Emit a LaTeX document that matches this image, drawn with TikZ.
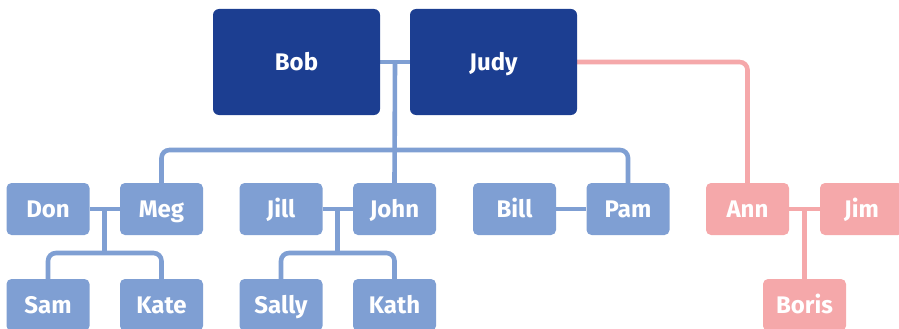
\documentclass[tikz,border=0pt]{standalone}
\usepackage{fontspec}
\setmainfont{Fira Sans}
\usetikzlibrary{calc,backgrounds}
\definecolor{navy}{RGB}{28,62,145}
\definecolor{lblue}{RGB}{127,159,211}
\definecolor{pinkish}{RGB}{245,168,170}
\tikzset{
  person/.style={rectangle, rounded corners=5pt, inner sep=0pt,
    minimum width=83pt, minimum height=52pt, text=white,
    text height=16.6pt, text depth=0pt,
    font=\fontsize{24}{28}\selectfont\bfseries},
  parent/.style={person, fill=navy, minimum width=167pt, minimum height=106pt, rounded corners=6pt},
  bluebox/.style={person, fill=lblue},
  pinkbox/.style={person, fill=pinkish},
  link/.style={line width=4.6pt, draw=lblue},
  pinklink/.style={line width=4.6pt, draw=pinkish},
}
\begin{document}
\begin{tikzpicture}[x=1pt, y=-1pt]
\useasboundingbox (0,0) rectangle (899,329);
\clip (0,0) rectangle (899,329);

% grandparents
\node[parent] (bob)  at (296.5,62) {Bob};
\node[parent] (judy) at (493.5,62) {Judy};

% second generation
\node[bluebox] (don)  at (48,209)    {Don};
\node[bluebox] (meg)  at (161.5,209) {Meg};
\node[bluebox] (jill) at (281,209)   {Jill};
\node[bluebox] (john) at (394.5,209) {John};
\node[bluebox] (bill) at (514.5,209) {Bill};
\node[bluebox] (pam)  at (628,209)   {Pam};
\node[pinkbox] (ann)  at (747.5,209) {Ann};
\node[pinkbox] (jim)  at (861.5,209) {Jim};

% third generation
\node[bluebox] (sam)   at (48,305)    {Sam};
\node[bluebox] (kate)  at (161.5,305) {Kate};
\node[bluebox] (sally) at (281,305)   {Sally};
\node[bluebox] (kath)  at (394.5,305) {Kath};
\node[pinkbox] (boris) at (804.5,305) {Boris};

\begin{pgfonlayer}{background}
  % Bob + Judy and their children
  \draw[link] (bob.east) -- (judy.west);
  \coordinate (bj) at ($(bob.east)!0.5!(judy.west)$);
  \draw[link] (bj) -- (john.north);
  \coordinate (g1) at ($(bj)+(0,88)$);
  \draw[link, rounded corners=8pt] (meg.north) |- (g1) -| (pam.north);

  % Don + Meg
  \draw[link] (don.east) -- (meg.west);
  \coordinate (dm) at ($(don.east)!0.5!(meg.west)$);
  \draw[link] (dm) -- ($(dm)+(0,44)$) coordinate (dmk);
  \draw[link, rounded corners=8pt] (sam.north) |- (dmk) -| (kate.north);

  % Jill + John
  \draw[link] (jill.east) -- (john.west);
  \coordinate (jj) at ($(jill.east)!0.5!(john.west)$);
  \draw[link] (jj) -- ($(jj)+(0,44)$) coordinate (jjk);
  \draw[link, rounded corners=8pt] (sally.north) |- (jjk) -| (kath.north);

  % Bill + Pam
  \draw[link] (bill.east) -- (pam.west);

  % Judy's other branch
  \draw[pinklink, rounded corners=8pt] (judy.east) -| (ann.north);
  \draw[pinklink] (ann.east) -- (jim.west);
  \coordinate (aj) at ($(ann.east)!0.5!(jim.west)$);
  \draw[pinklink] (aj) -- (aj |- boris.north);
\end{pgfonlayer}
\end{tikzpicture}
\end{document}
